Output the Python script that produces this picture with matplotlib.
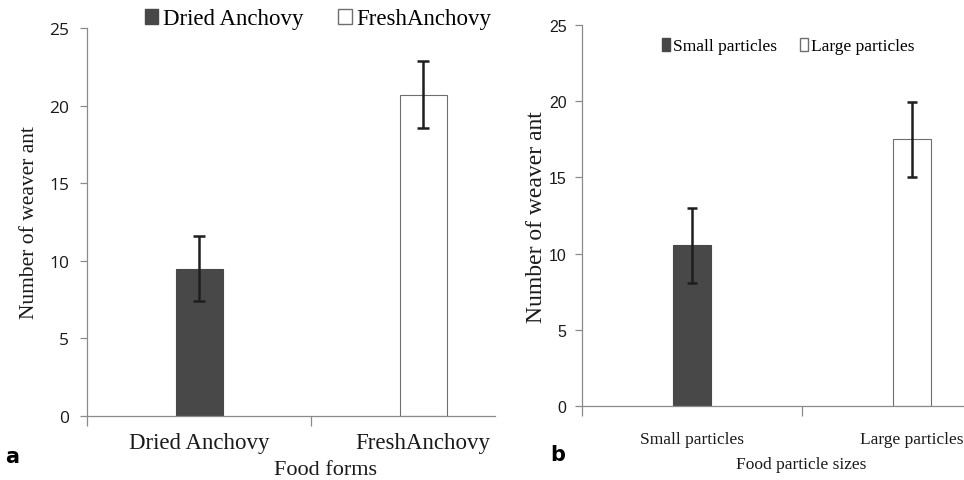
import numpy as np
import matplotlib.pyplot as plt
from matplotlib import font_manager
from matplotlib.patches import Patch

# panel a data
forms = ["Dried Anchovy", "FreshAnchovy"]
forms_mean = [9.5, 20.7]
forms_err = [2.1, 2.15]

# panel b data
sizes = ["Small particles", "Large particles"]
sizes_mean = [10.55, 17.5]
sizes_err = [2.45, 2.45]

yticks = [0, 5, 10, 15, 20, 25]

dark = "#484848"
axis_col = "#8a8a8a"
err_col = "#1e1e1e"
txt = "#1a1a1a"

installed = {f.name for f in font_manager.fontManager.ttflist}
serif = ["Liberation Serif", "DejaVu Serif"]
narrow_name = "Liberation Sans Narrow" if "Liberation Sans Narrow" in installed else "Liberation Sans"
narrow = [narrow_name, "DejaVu Sans"]

fig = plt.figure(figsize=(9.64, 4.81), dpi=100)


def draw_panel(ax, labels, mean, err, width, tick_font, tick_size, cap, pad):
    x = np.arange(len(labels))
    colors = [dark, "white"]
    edges = [dark, "#6e6e6e"]
    ax.bar(x, mean, width=width, color=colors, edgecolor=edges, linewidth=0.8, zorder=2)
    ax.errorbar(x, mean, yerr=err, fmt="none", ecolor=err_col, elinewidth=1.8,
                capsize=cap, capthick=1.8, zorder=3)
    ax.set_ylim(0, 25)
    ax.set_yticks(yticks)
    ax.set_yticklabels([str(t) for t in yticks], family=tick_font, fontsize=tick_size,
                       color=txt)
    ax.set_xticks([-0.5, 0.5, 1.5])
    ax.set_xticklabels([])
    ax.tick_params(axis="x", direction="out", length=7, color=axis_col, width=0.9)
    ax.tick_params(axis="y", direction="out", length=5, color=axis_col, width=0.9, pad=pad)
    for s in ["top", "right"]:
        ax.spines[s].set_visible(False)
    for s in ["left", "bottom"]:
        ax.spines[s].set_color(axis_col)
        ax.spines[s].set_linewidth(0.9)


# panel a
ax1 = fig.add_axes([87 / 964, 1 - 417 / 481, 408 / 964, 388 / 481])
draw_panel(ax1, forms, forms_mean, forms_err, 0.21, ["Open Sans", "DejaVu Sans"], 12.5, 4, 8)
ax1.set_xlim(-0.5, 1.321)
for i, lab in enumerate(forms):
    ax1.text(i, -0.068, lab, transform=ax1.get_xaxis_transform(), ha="center", va="center",
             family=serif, fontsize=16.5, color=txt)
fig.text(325 / 964, 1 - 471 / 481, "Food forms", ha="center", va="center",
         family=serif, fontsize=16, color=txt)
fig.text(30 / 964, 1 - 223 / 481, "Number of weaver ant", rotation=90, ha="center",
         va="center", family=serif, fontsize=15.5, color=txt)
fig.text(12 / 964, 1 - 457 / 481, "a", ha="center", va="center", fontsize=15,
         fontweight="bold", family=["DejaVu Sans"])
handles = [Patch(facecolor=dark, edgecolor=dark), Patch(facecolor="white", edgecolor="#6e6e6e")]
fig.legend(handles, forms, loc="center", bbox_to_anchor=(318 / 964, 1 - 20 / 481), ncol=2,
           frameon=False, prop={"family": serif, "size": 16.5}, handlelength=0.6,
           handleheight=0.6, handletextpad=0.2, columnspacing=1.5, borderpad=0)

# panel b
ax2 = fig.add_axes([582 / 964, 1 - 407 / 481, 382 / 964, 381 / 481])
draw_panel(ax2, sizes, sizes_mean, sizes_err, 0.17, narrow, 11.5, 3.5, 6)
ax2.set_xlim(-0.5, 1.237)
for i, lab in enumerate(sizes):
    ax2.text(i, -0.087, lab, transform=ax2.get_xaxis_transform(), ha="center", va="center",
             family=serif, fontsize=12.5, color=txt)
fig.text(801 / 964, 1 - 465 / 481, "Food particle sizes", ha="center", va="center",
         family=serif, fontsize=12.5, color=txt)
fig.text(536 / 964, 1 - 217 / 481, "Number of weaver ant", rotation=90, ha="center",
         va="center", family=serif, fontsize=17, color=txt)
fig.text(558 / 964, 1 - 455 / 481, "b", ha="center", va="center", fontsize=15,
         fontweight="bold", family=["DejaVu Sans"])
fig.legend(handles, sizes, loc="center", bbox_to_anchor=(788 / 964, 1 - 47 / 481), ncol=2,
           frameon=False, prop={"family": serif, "size": 12.5},
           handlelength=0.5, handleheight=0.8, handletextpad=0.15, columnspacing=1.3,
           borderpad=0)

fig.savefig("out.png", dpi=100)
